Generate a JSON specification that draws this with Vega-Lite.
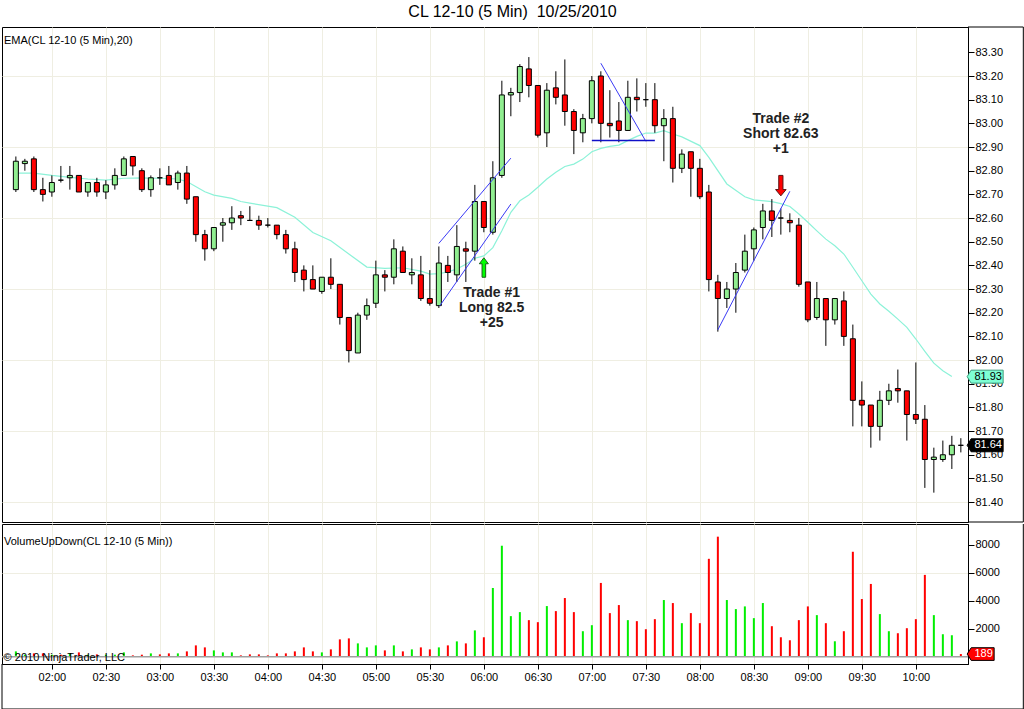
{
  "$schema": "https://vega.github.io/schema/vega-lite/v6.json",
  "background": "white",
  "padding": {"left": 0, "top": 4, "right": 0, "bottom": 0},
  "title": {"text": "CL 12-10 (5 Min)\u00a0 10/25/2010", "fontSize": 16, "fontWeight": "normal", "font": "Liberation Sans", "color": "black", "anchor": "middle", "frame": "bounds", "offset": 6},
  "config": {
    "font": "Liberation Sans",
    "view": {"stroke": "black", "strokeWidth": 1},
    "axis": {"labelFont": "Liberation Sans", "labelFontSize": 11, "labelColor": "black", "tickColor": "black", "domainColor": "black", "gridColor": "#efeee2", "gridWidth": 1}
  },
  "spacing": 0,
  "data": {
    "values": [
      {"m":100,"o":82.72,"h":82.86,"l":82.71,"c":82.84,"v":381,"ema":82.79},
      {"m":105,"o":82.83,"h":82.85,"l":82.80,"c":82.84,"v":143},
      {"m":110,"o":82.85,"h":82.86,"l":82.71,"c":82.72,"v":238,"ema":82.79},
      {"m":115,"o":82.72,"h":82.77,"l":82.67,"c":82.70,"v":238},
      {"m":120,"o":82.71,"h":82.78,"l":82.69,"c":82.75,"v":143,"ema":82.78},
      {"m":125,"o":82.76,"h":82.82,"l":82.75,"c":82.76,"v":143},
      {"m":130,"o":82.77,"h":82.82,"l":82.72,"c":82.78,"v":238,"ema":82.772},
      {"m":135,"o":82.78,"h":82.78,"l":82.71,"c":82.71,"v":309},
      {"m":140,"o":82.71,"h":82.75,"l":82.69,"c":82.75,"v":143,"ema":82.765},
      {"m":145,"o":82.75,"h":82.77,"l":82.69,"c":82.71,"v":167},
      {"m":150,"o":82.71,"h":82.76,"l":82.68,"c":82.74,"v":143,"ema":82.76},
      {"m":155,"o":82.74,"h":82.81,"l":82.72,"c":82.78,"v":143},
      {"m":160,"o":82.78,"h":82.86,"l":82.78,"c":82.85,"v":309,"ema":82.768},
      {"m":165,"o":82.86,"h":82.86,"l":82.78,"c":82.82,"v":95},
      {"m":170,"o":82.80,"h":82.81,"l":82.71,"c":82.72,"v":143,"ema":82.77},
      {"m":175,"o":82.72,"h":82.78,"l":82.69,"c":82.77,"v":238},
      {"m":180,"o":82.77,"h":82.81,"l":82.74,"c":82.77,"v":167,"ema":82.768},
      {"m":185,"o":82.78,"h":82.82,"l":82.74,"c":82.74,"v":238},
      {"m":190,"o":82.75,"h":82.80,"l":82.72,"c":82.79,"v":238,"ema":82.765},
      {"m":195,"o":82.79,"h":82.82,"l":82.66,"c":82.68,"v":381,"ema":82.754},
      {"m":200,"o":82.69,"h":82.69,"l":82.50,"c":82.53,"v":809},
      {"m":205,"o":82.53,"h":82.55,"l":82.42,"c":82.47,"v":666,"ema":82.711},
      {"m":210,"o":82.47,"h":82.56,"l":82.46,"c":82.56,"v":452,"ema":82.697},
      {"m":215,"o":82.57,"h":82.60,"l":82.50,"c":82.58,"v":309},
      {"m":220,"o":82.58,"h":82.65,"l":82.55,"c":82.60,"v":309,"ema":82.683},
      {"m":225,"o":82.61,"h":82.63,"l":82.57,"c":82.60,"v":95,"ema":82.67},
      {"m":230,"o":82.59,"h":82.65,"l":82.59,"c":82.59,"v":167,"ema":82.663},
      {"m":235,"o":82.59,"h":82.61,"l":82.55,"c":82.57,"v":167},
      {"m":240,"o":82.57,"h":82.60,"l":82.56,"c":82.57,"v":95},
      {"m":245,"o":82.57,"h":82.57,"l":82.51,"c":82.53,"v":238,"ema":82.644},
      {"m":250,"o":82.53,"h":82.55,"l":82.45,"c":82.47,"v":238},
      {"m":255,"o":82.47,"h":82.50,"l":82.33,"c":82.37,"v":381,"ema":82.603},
      {"m":260,"o":82.38,"h":82.40,"l":82.29,"c":82.34,"v":666},
      {"m":265,"o":82.34,"h":82.40,"l":82.30,"c":82.30,"v":381,"ema":82.539},
      {"m":270,"o":82.29,"h":82.35,"l":82.28,"c":82.35,"v":309},
      {"m":275,"o":82.35,"h":82.43,"l":82.30,"c":82.32,"v":524,"ema":82.504},
      {"m":280,"o":82.32,"h":82.32,"l":82.15,"c":82.18,"v":1238},
      {"m":285,"o":82.18,"h":82.18,"l":81.99,"c":82.04,"v":1309,"ema":82.448},
      {"m":290,"o":82.03,"h":82.20,"l":82.03,"c":82.19,"v":952},
      {"m":295,"o":82.19,"h":82.26,"l":82.17,"c":82.23,"v":666,"ema":82.393},
      {"m":300,"o":82.24,"h":82.42,"l":82.22,"c":82.36,"v":809},
      {"m":305,"o":82.36,"h":82.38,"l":82.29,"c":82.35,"v":452,"ema":82.387},
      {"m":310,"o":82.35,"h":82.51,"l":82.32,"c":82.47,"v":809},
      {"m":315,"o":82.46,"h":82.48,"l":82.37,"c":82.37,"v":381,"ema":82.39},
      {"m":320,"o":82.36,"h":82.43,"l":82.32,"c":82.37,"v":524},
      {"m":325,"o":82.36,"h":82.44,"l":82.25,"c":82.26,"v":666,"ema":82.376},
      {"m":330,"o":82.26,"h":82.38,"l":82.23,"c":82.24,"v":524,"ema":82.363},
      {"m":335,"o":82.23,"h":82.48,"l":82.22,"c":82.41,"v":666,"ema":82.365},
      {"m":340,"o":82.40,"h":82.44,"l":82.33,"c":82.37,"v":809,"ema":82.372},
      {"m":345,"o":82.36,"h":82.57,"l":82.33,"c":82.48,"v":1095,"ema":82.385},
      {"m":350,"o":82.47,"h":82.50,"l":82.33,"c":82.46,"v":952,"ema":82.405},
      {"m":355,"o":82.46,"h":82.74,"l":82.42,"c":82.67,"v":1880,"ema":82.43},
      {"m":360,"o":82.67,"h":82.67,"l":82.54,"c":82.56,"v":1389,"ema":82.44},
      {"m":365,"o":82.54,"h":82.84,"l":82.53,"c":82.77,"v":4910,"ema":82.475},
      {"m":370,"o":82.78,"h":83.18,"l":82.77,"c":83.12,"v":7927,"ema":82.546},
      {"m":375,"o":83.12,"h":83.15,"l":83.03,"c":83.13,"v":2898,"ema":82.624},
      {"m":380,"o":83.13,"h":83.25,"l":83.09,"c":83.24,"v":3185,"ema":82.673},
      {"m":385,"o":83.23,"h":83.28,"l":83.11,"c":83.16,"v":2611,"ema":82.697},
      {"m":390,"o":83.16,"h":83.16,"l":82.94,"c":82.95,"v":2467,"ema":82.73},
      {"m":395,"o":82.96,"h":83.17,"l":82.90,"c":83.14,"v":3616,"ema":82.765},
      {"m":400,"o":83.15,"h":83.22,"l":83.08,"c":83.11,"v":3257,"ema":82.793},
      {"m":405,"o":83.12,"h":83.27,"l":82.99,"c":83.05,"v":4191,"ema":82.818},
      {"m":410,"o":83.05,"h":83.06,"l":82.87,"c":82.97,"v":3185,"ema":82.828},
      {"m":415,"o":82.96,"h":83.04,"l":82.92,"c":83.02,"v":1821,"ema":82.849},
      {"m":420,"o":83.02,"h":83.20,"l":83.00,"c":83.18,"v":2251,"ema":82.88},
      {"m":425,"o":83.20,"h":83.22,"l":82.92,"c":83.00,"v":5269,"ema":82.894},
      {"m":430,"o":83.00,"h":83.14,"l":82.94,"c":82.99,"v":3114,"ema":82.903},
      {"m":435,"o":83.01,"h":83.09,"l":82.92,"c":82.97,"v":3688,"ema":82.908},
      {"m":440,"o":82.97,"h":83.18,"l":82.97,"c":83.11,"v":2611,"ema":82.927},
      {"m":445,"o":83.11,"h":83.19,"l":83.05,"c":83.10,"v":2539,"ema":82.945},
      {"m":450,"o":83.10,"h":83.17,"l":83.07,"c":83.10,"v":1964,"ema":82.959},
      {"m":455,"o":83.10,"h":83.17,"l":82.96,"c":82.99,"v":2682,"ema":82.959},
      {"m":460,"o":82.99,"h":83.06,"l":82.84,"c":83.02,"v":4048,"ema":82.969},
      {"m":465,"o":83.02,"h":83.07,"l":82.75,"c":82.81,"v":3832,"ema":82.955},
      {"m":470,"o":82.81,"h":82.89,"l":82.79,"c":82.87,"v":2395,"ema":82.943},
      {"m":475,"o":82.88,"h":82.88,"l":82.69,"c":82.81,"v":3114},
      {"m":480,"o":82.81,"h":82.85,"l":82.68,"c":82.69,"v":2395,"ema":82.906},
      {"m":485,"o":82.71,"h":82.74,"l":82.29,"c":82.34,"v":6993,"ema":82.856},
      {"m":490,"o":82.33,"h":82.36,"l":82.12,"c":82.26,"v":8574},
      {"m":495,"o":82.26,"h":82.33,"l":82.22,"c":82.30,"v":4048,"ema":82.744},
      {"m":500,"o":82.30,"h":82.41,"l":82.20,"c":82.37,"v":3401},
      {"m":505,"o":82.38,"h":82.53,"l":82.37,"c":82.46,"v":3593,"ema":82.69},
      {"m":510,"o":82.47,"h":82.56,"l":82.42,"c":82.55,"v":2754,"ema":82.677},
      {"m":515,"o":82.56,"h":82.66,"l":82.51,"c":82.63,"v":3832},
      {"m":520,"o":82.63,"h":82.68,"l":82.52,"c":82.59,"v":2179,"ema":82.669},
      {"m":525,"o":82.60,"h":82.64,"l":82.53,"c":82.60,"v":1389,"ema":82.661},
      {"m":530,"o":82.59,"h":82.62,"l":82.54,"c":82.58,"v":1174,"ema":82.649},
      {"m":535,"o":82.57,"h":82.60,"l":82.31,"c":82.32,"v":2611,"ema":82.617},
      {"m":540,"o":82.33,"h":82.33,"l":82.16,"c":82.17,"v":3593,"ema":82.582},
      {"m":545,"o":82.18,"h":82.33,"l":82.17,"c":82.26,"v":2970,"ema":82.546},
      {"m":550,"o":82.26,"h":82.26,"l":82.06,"c":82.17,"v":2395,"ema":82.511},
      {"m":555,"o":82.17,"h":82.26,"l":82.15,"c":82.26,"v":1102,"ema":82.483},
      {"m":560,"o":82.25,"h":82.29,"l":82.06,"c":82.10,"v":1821,"ema":82.448},
      {"m":565,"o":82.09,"h":82.15,"l":81.72,"c":81.83,"v":7496,"ema":82.392},
      {"m":570,"o":81.83,"h":81.91,"l":81.72,"c":81.81,"v":4119,"ema":82.335},
      {"m":575,"o":81.81,"h":81.81,"l":81.63,"c":81.72,"v":5197,"ema":82.279},
      {"m":580,"o":81.72,"h":81.87,"l":81.66,"c":81.83,"v":3042,"ema":82.237},
      {"m":585,"o":81.83,"h":81.90,"l":81.81,"c":81.87,"v":1821,"ema":82.206},
      {"m":590,"o":81.88,"h":81.96,"l":81.82,"c":81.87,"v":1677,"ema":82.173},
      {"m":595,"o":81.87,"h":81.87,"l":81.66,"c":81.77,"v":2036,"ema":82.138},
      {"m":600,"o":81.77,"h":81.99,"l":81.73,"c":81.75,"v":2682,"ema":82.089},
      {"m":605,"o":81.75,"h":81.81,"l":81.46,"c":81.58,"v":5844,"ema":82.037},
      {"m":610,"o":81.58,"h":81.63,"l":81.44,"c":81.59,"v":2970,"ema":81.987},
      {"m":615,"o":81.58,"h":81.66,"l":81.57,"c":81.60,"v":1605,"ema":81.955},
      {"m":620,"o":81.60,"h":81.68,"l":81.54,"c":81.64,"v":1533,"ema":81.931},
      {"m":625,"o":81.64,"h":81.67,"l":81.61,"c":81.64,"v":189}
    ]
  },
  "vconcat": [
    {
      "width": 966,
      "height": 495,
      "title": {"text": "EMA(CL 12-10 (5 Min),20)", "anchor": "start", "frame": "group", "fontSize": 11, "fontWeight": "normal", "font": "Liberation Sans", "color": "black", "baseline": "top", "offset": -19, "dx": 2},
      "encoding": {
        "x": {
          "field": "m", "type": "quantitative", "title": null,
          "scale": {"domain": [92.3, 628.97], "nice": false, "zero": false, "padding": 0},
          "axis": {"orient": "bottom", "labels": false, "ticks": false, "domain": false, "grid": true, "minExtent": 0, "maxExtent": 0,
            "values": [120, 150, 180, 210, 240, 270, 300, 330, 360, 390, 420, 450, 480, 510, 540, 570, 600]}
        },
        "y": {
          "type": "quantitative", "title": null,
          "scale": {"domain": [81.316, 83.407], "nice": false, "zero": false, "padding": 0},
          "axis": {
            "orient": "right", "format": ".2f", "tickSize": 6, "labelPadding": 1, "domain": true,
            "values": [81.4, 81.5, 81.6, 81.7, 81.8, 81.9, 82.0, 82.1, 82.2, 82.3, 82.4, 82.5, 82.6, 82.7, 82.8, 82.9, 83.0, 83.1, 83.2, 83.3],
            "grid": true,
            "gridOpacity": {"condition": {"test": "round(datum.value * 10) % 3 == 1", "value": 1}, "value": 0}
          }
        }
      },
      "layer": [
        {
          "transform": [{"filter": "isValid(datum.ema)"}],
          "mark": {"type": "line", "color": "#8cf2d8", "strokeWidth": 1.2},
          "encoding": {"y": {"field": "ema"}}
        },
        {
          "mark": {"type": "rule", "color": "black", "strokeWidth": 1},
          "encoding": {"y": {"field": "l"}, "y2": {"field": "h"}}
        },
        {
          "mark": {"type": "bar", "size": 5, "stroke": "black", "strokeWidth": 1},
          "encoding": {
            "y": {"field": "o"},
            "y2": {"field": "c"},
            "color": {"condition": {"test": "datum.c > datum.o", "value": "#90ee90"}, "value": "#ff0000"}
          }
        },
        {
          "data": {
            "values": [
              {"m": 335, "p": 82.493, "m2": 375, "p2": 82.853},
              {"m": 335.5, "p": 82.229, "m2": 375, "p2": 82.659},
              {"m": 425, "p": 83.254, "m2": 450, "p2": 82.924},
              {"m": 490, "p": 82.128, "m2": 530, "p2": 82.713}
            ]
          },
          "mark": {"type": "rule", "color": "#3a3af5", "strokeWidth": 1},
          "encoding": {"y": {"field": "p"}, "x2": {"field": "m2"}, "y2": {"field": "p2"}}
        },
        {
          "data": {"values": [{"m": 420, "p": 82.928, "m2": 455}]},
          "mark": {"type": "rule", "color": "#1010c8", "strokeWidth": 1.5},
          "encoding": {"y": {"field": "p"}, "x2": {"field": "m2"}}
        },
        {
          "data": {
            "values": [
              {"m": 628.97, "p": 83.407, "m2": 659.7, "p2": 83.407},
              {"m": 628.97, "p": 81.316, "m2": 659.7, "p2": 81.316},
              {"m": 659.7, "p": 83.407, "m2": 659.7, "p2": 81.316}
            ]
          },
          "mark": {"type": "rule", "color": "black", "strokeWidth": 1},
          "encoding": {"y": {"field": "p"}, "x2": {"field": "m2"}, "y2": {"field": "p2"}}
        },
        {
          "data": {"values": [{"m": 360, "p": 82.39}]},
          "mark": {"type": "point", "filled": true, "size": 400, "opacity": 1, "fill": "#00ff00", "stroke": "#1a5e1a", "strokeWidth": 1,
            "shape": "M0,-1 L0.45,-0.4 L0.18,-0.4 L0.18,0.95 L-0.18,0.95 L-0.18,-0.4 L-0.45,-0.4 Z"},
          "encoding": {"y": {"field": "p"}}
        },
        {
          "data": {"values": [{"m": 525, "p": 82.738}]},
          "mark": {"type": "point", "filled": true, "size": 441, "opacity": 1, "fill": "#ff0000", "stroke": "#5a1010", "strokeWidth": 1,
            "shape": "M0,1 L0.5,0.4 L0.2,0.4 L0.2,-0.95 L-0.2,-0.95 L-0.2,0.4 L-0.5,0.4 Z"},
          "encoding": {"y": {"field": "p"}}
        },
        {
          "data": {
            "values": [
              {"m": 364.3, "p": 82.265, "label": "Trade #1\nLong 82.5\n+25"},
              {"m": 525, "p": 83.001, "label": "Trade #2\nShort 82.63\n+1"}
            ]
          },
          "mark": {"type": "text", "font": "Liberation Sans", "fontSize": 14, "fontWeight": "bold", "color": "#222222", "align": "center", "baseline": "alphabetic", "lineBreak": "\n", "lineHeight": 15},
          "encoding": {"y": {"field": "p"}, "text": {"field": "label"}}
        },
        {
          "data": {"values": [{"m": 638.5, "p": 81.93, "label": "81.93"}]},
          "mark": {"type": "point", "filled": true, "size": 1296, "opacity": 1, "fill": "#7fffd4", "stroke": "#3c9c7c", "strokeWidth": 1,
            "shape": "M-1,0 L-0.78,-0.36 L1,-0.36 L1,0.36 L-0.78,0.36 Z"},
          "encoding": {"y": {"field": "p"}}
        },
        {
          "data": {"values": [{"m": 638.5, "p": 81.93, "label": "81.93"}]},
          "mark": {"type": "text", "fontSize": 11, "color": "black", "align": "center", "baseline": "middle", "dx": 3},
          "encoding": {"y": {"field": "p"}, "text": {"field": "label"}}
        },
        {
          "data": {"values": [{"m": 638.5, "p": 81.64, "label": "81.64"}]},
          "mark": {"type": "point", "filled": true, "size": 1296, "opacity": 1, "fill": "black", "stroke": "black", "strokeWidth": 1,
            "shape": "M-1,0 L-0.78,-0.36 L1,-0.36 L1,0.36 L-0.78,0.36 Z"},
          "encoding": {"y": {"field": "p"}}
        },
        {
          "data": {"values": [{"m": 638.5, "p": 81.64, "label": "81.64"}]},
          "mark": {"type": "text", "fontSize": 11, "color": "white", "align": "center", "baseline": "middle", "dx": 3},
          "encoding": {"y": {"field": "p"}, "text": {"field": "label"}}
        }
      ]
    },
    {
      "width": 966,
      "height": 140,
      "title": {"text": "VolumeUpDown(CL 12-10 (5 Min))", "anchor": "start", "frame": "group", "fontSize": 11, "fontWeight": "normal", "font": "Liberation Sans", "color": "black", "baseline": "top", "offset": -23, "dx": 2},
      "encoding": {
        "x": {
          "field": "m", "type": "quantitative", "title": null,
          "scale": {"domain": [92.3, 628.97], "nice": false, "zero": false, "padding": 0},
          "axis": {"orient": "bottom", "tickSize": 5, "labelPadding": 2, "domain": true, "grid": true,
            "values": [120, 150, 180, 210, 240, 270, 300, 330, 360, 390, 420, 450, 480, 510, 540, 570, 600],
            "labelExpr": "format(floor(datum.value / 60), '02d') + ':' + format(datum.value % 60, '02d')"}
        },
        "y": {
          "type": "quantitative", "title": null,
          "scale": {"domain": [-521, 9479], "nice": false, "zero": false, "padding": 0},
          "axis": {
            "orient": "right", "format": "d", "tickSize": 6, "labelPadding": 1, "domain": true,
            "values": [2000, 4000, 6000, 8000],
            "grid": true,
            "gridOpacity": {"condition": {"test": "datum.value == 6000", "value": 1}, "value": 0}
          }
        }
      },
      "layer": [
        {
          "mark": {"type": "bar", "size": 2},
          "encoding": {
            "y": {"field": "v"},
            "y2": {"datum": 0},
            "color": {"condition": {"test": "datum.c > datum.o", "value": "#00ee00"}, "value": "#ff0000"}
          }
        },
        {
          "data": {"values": [{"m": 92.3, "m2": 628.97, "v": 0}]},
          "mark": {"type": "rule", "color": "#a0a0a0", "strokeWidth": 1.5},
          "encoding": {"x2": {"field": "m2"}, "y": {"field": "v"}}
        },
        {
          "data": {
            "values": [
              {"m": 659.7, "v": 9479, "m2": 659.7, "v2": -3736},
              {"m": 92.3, "v": -3736, "m2": 659.7, "v2": -3736},
              {"m": 92.3, "v": -521, "m2": 92.3, "v2": -3736}
            ]
          },
          "mark": {"type": "rule", "color": "black", "strokeWidth": 1},
          "encoding": {"y": {"field": "v"}, "x2": {"field": "m2"}, "y2": {"field": "v2"}}
        },
        {
          "data": {"values": [{"m": 93.2, "v": -93, "label": "© 2010 NinjaTrader, LLC"}]},
          "mark": {"type": "text", "fontSize": 11, "color": "black", "align": "left", "baseline": "middle"},
          "encoding": {"y": {"field": "v"}, "text": {"field": "label"}}
        },
        {
          "data": {"values": [{"m": 636, "v": 189}]},
          "mark": {"type": "point", "filled": true, "size": 729, "opacity": 1, "fill": "#ff0000", "stroke": "black", "strokeWidth": 1,
            "shape": "M-1,0 L-0.7,-0.47 L1,-0.47 L1,0.47 L-0.7,0.47 Z"},
          "encoding": {"y": {"field": "v"}}
        },
        {
          "data": {"values": [{"m": 636, "v": 189, "label": "189"}]},
          "mark": {"type": "text", "fontSize": 11, "color": "white", "align": "center", "baseline": "middle", "dx": 3},
          "encoding": {"y": {"field": "v"}, "text": {"field": "label"}}
        }
      ]
    }
  ]
}
